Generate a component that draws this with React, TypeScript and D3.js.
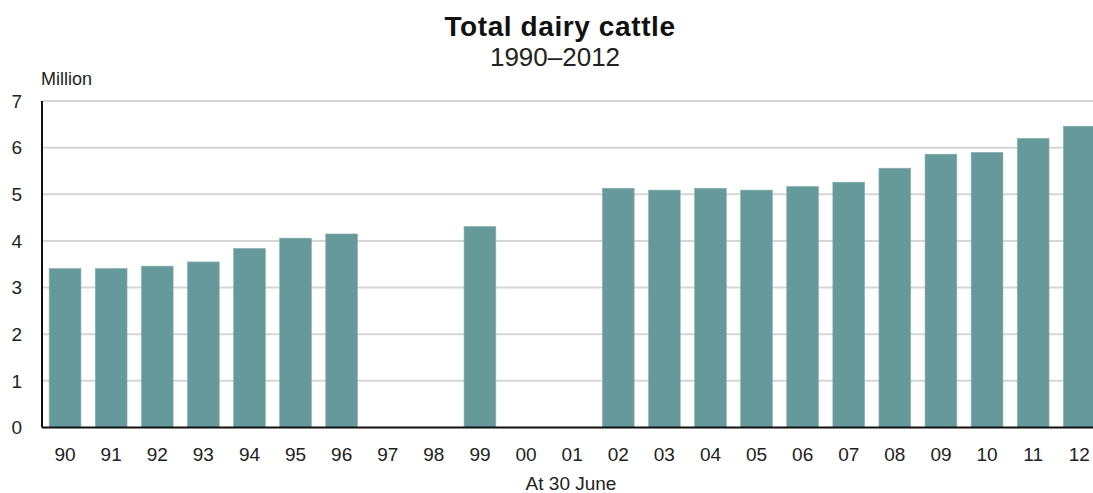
import React, { useEffect, useRef } from 'react';
import * as d3 from 'd3';

// values in million head, at 30 June; null = no data that year
const years = ['90', '91', '92', '93', '94', '95', '96', '97', '98', '99', '00', '01',
  '02', '03', '04', '05', '06', '07', '08', '09', '10', '11', '12'];
const cattle = [3.41, 3.41, 3.46, 3.55, 3.84, 4.06, 4.15, null, null, 4.31, null, null,
  5.13, 5.09, 5.13, 5.09, 5.17, 5.26, 5.56, 5.86, 5.90, 6.20, 6.46];
const yTicks = [0, 1, 2, 3, 4, 5, 6, 7];

const W = 1093;
const H = 493;
const FONT = '"Liberation Sans", Arial, sans-serif';

const App = () => {
  const svgRef = useRef<SVGSVGElement>(null);

  useEffect(() => {
    const svg = d3.select(svgRef.current);
    svg.selectAll('*').remove();

    const left = 42;
    const step = 46.1;
    const x = d3.scaleBand()
      .domain(years)
      .range([left, left + step * years.length])
      .paddingInner(0.31)
      .paddingOuter(0.155);

    const y = d3.scaleLinear()
      .domain([0, 7])
      .range([427.5, 101]);

    // gridlines
    svg.append('g')
      .selectAll('line')
      .data(yTicks.filter(t => t > 0))
      .join('line')
      .attr('x1', left)
      .attr('x2', W)
      .attr('y1', d => y(d))
      .attr('y2', d => y(d))
      .attr('stroke', '#d6d6d6')
      .attr('stroke-width', 2);

    // bars
    const rows = years.map((yr, i) => ({ yr, v: cattle[i] })).filter(d => d.v != null);
    svg.append('g')
      .selectAll('rect')
      .data(rows)
      .join('rect')
      .attr('x', d => x(d.yr)!)
      .attr('width', x.bandwidth())
      .attr('y', d => y(d.v as number))
      .attr('height', d => y(0) - y(d.v as number))
      .attr('fill', '#669999')
      .attr('stroke', '#8fb3b3')
      .attr('stroke-width', 0.6);

    // axes lines
    svg.append('line')
      .attr('x1', left).attr('x2', left)
      .attr('y1', y(7)).attr('y2', y(0))
      .attr('stroke', '#111').attr('stroke-width', 2);
    svg.append('line')
      .attr('x1', left).attr('x2', W)
      .attr('y1', y(0)).attr('y2', y(0))
      .attr('stroke', '#111').attr('stroke-width', 2);

    // y tick labels
    svg.append('g')
      .selectAll('text')
      .data(yTicks)
      .join('text')
      .attr('x', 22)
      .attr('y', d => y(d))
      .attr('dy', '0.36em')
      .attr('text-anchor', 'end')
      .style('font-family', FONT)
      .style('font-size', '19px')
      .style('fill', '#222')
      .text(d => d);

    // x tick labels
    svg.append('g')
      .selectAll('text')
      .data(years)
      .join('text')
      .attr('x', d => x(d)! + x.bandwidth() / 2)
      .attr('y', 461)
      .attr('text-anchor', 'middle')
      .style('font-family', FONT)
      .style('font-size', '19px')
      .style('fill', '#222')
      .text(d => d);

    svg.append('text')
      .attr('x', 41)
      .attr('y', 85)
      .style('font-family', FONT)
      .style('font-size', '18px')
      .style('fill', '#222')
      .text('Million');

    svg.append('text')
      .attr('x', 571)
      .attr('y', 490)
      .attr('text-anchor', 'middle')
      .style('font-family', FONT)
      .style('font-size', '19px')
      .style('fill', '#222')
      .text('At 30 June');

    svg.append('text')
      .attr('x', 560)
      .attr('y', 36)
      .attr('text-anchor', 'middle')
      .style('font-family', FONT)
      .style('font-size', '28px')
      .style('font-weight', 700)
      .style('letter-spacing', '0.6px')
      .style('fill', '#111')
      .text('Total dairy cattle');

    svg.append('text')
      .attr('x', 555)
      .attr('y', 66)
      .attr('text-anchor', 'middle')
      .style('font-family', FONT)
      .style('font-size', '26px')
      .style('fill', '#222')
      .text('1990–2012');
  }, []);

  return (
    <svg
      ref={svgRef}
      width={W}
      height={H}
      style={{ position: 'absolute', left: 0, top: 0, background: '#fff' }}
    />
  );
};

export default App;
